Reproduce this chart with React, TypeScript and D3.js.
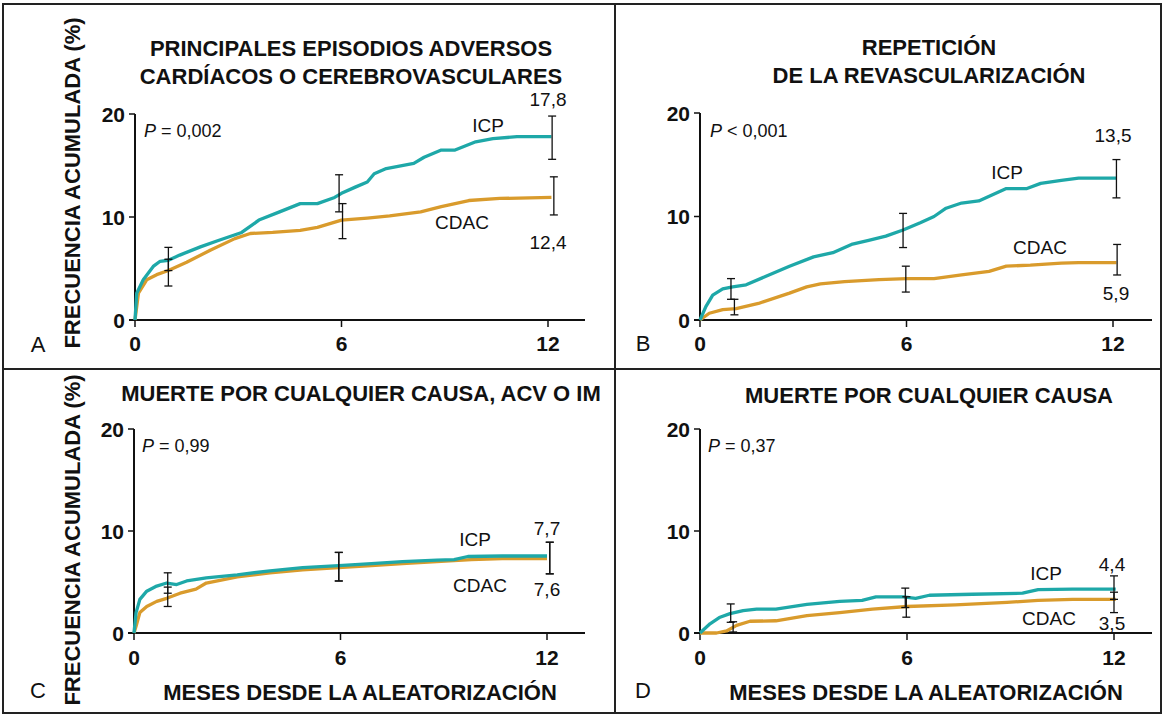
import React from 'react';
import * as d3 from 'd3';

// ---------- DATA ----------
const yTicks = [0, 10, 20];
const xTicks = [0, 6, 12];

const icpA: [number, number][] = [
  [0, 0], [0.05, 2.6], [0.24, 3.9], [0.53, 5.2], [0.73, 5.7], [0.97, 5.8], [1.3, 6.3], [1.9, 7.1],
  [2.4, 7.7], [3.1, 8.5], [3.6, 9.7], [4.2, 10.5], [4.8, 11.3], [5.3, 11.3], [5.8, 11.9], [6.0, 12.3],
  [6.4, 12.9], [6.75, 13.4], [6.95, 14.2], [7.3, 14.7], [8.1, 15.2], [8.4, 15.8], [8.9, 16.5],
  [9.3, 16.5], [9.9, 17.3], [10.4, 17.6], [11.1, 17.8], [12.1, 17.8],
];
const cdacA: [number, number][] = [
  [0, 0], [0.1, 2.6], [0.34, 3.9], [0.63, 4.4], [0.97, 4.8], [1.5, 5.6], [2.2, 6.8], [2.9, 7.9],
  [3.35, 8.4], [4.0, 8.5], [4.8, 8.7], [5.3, 9.0], [6.0, 9.7], [6.75, 9.9], [7.4, 10.1], [8.3, 10.5],
  [8.9, 11.0], [9.7, 11.6], [10.6, 11.8], [12.1, 11.9],
];
const icpB: [number, number][] = [
  [0, 0], [0.17, 1.3], [0.37, 2.4], [0.66, 3.0], [0.95, 3.2], [1.34, 3.4], [1.9, 4.2], [2.6, 5.2],
  [3.3, 6.1], [3.86, 6.5], [4.4, 7.3], [4.9, 7.7], [5.4, 8.1], [5.9, 8.7], [6.4, 9.4], [6.8, 10.0],
  [7.15, 10.8], [7.6, 11.3], [8.1, 11.5], [8.5, 12.1], [8.9, 12.7], [9.5, 12.7], [9.9, 13.2],
  [10.5, 13.5], [11.0, 13.7], [12.1, 13.7],
];
const cdacB: [number, number][] = [
  [0, 0], [0.27, 0.65], [0.66, 1.0], [1.05, 1.1], [1.7, 1.6], [2.6, 2.6], [3.1, 3.2], [3.5, 3.5],
  [4.2, 3.7], [5.2, 3.9], [6.0, 4.0], [6.8, 4.0], [7.6, 4.35], [8.4, 4.7], [8.9, 5.2], [9.6, 5.3],
  [10.5, 5.5], [11.0, 5.55], [12.1, 5.55],
];
const icpC: [number, number][] = [
  [0, 0], [0.06, 2.0], [0.17, 3.3], [0.37, 4.1], [0.66, 4.6], [0.95, 4.9], [1.24, 4.75], [1.53, 5.1],
  [2.1, 5.4], [3.0, 5.7], [3.95, 6.1], [4.9, 6.4], [5.95, 6.6], [6.9, 6.8], [7.8, 7.0], [8.8, 7.15],
  [9.3, 7.2], [9.7, 7.5], [10.7, 7.55], [12.0, 7.55],
];
const cdacC: [number, number][] = [
  [0, 0], [0.06, 0.65], [0.17, 2.0], [0.37, 2.6], [0.66, 3.1], [0.95, 3.4], [1.34, 3.9], [1.8, 4.3],
  [2.1, 4.9], [3.0, 5.5], [3.95, 5.9], [4.9, 6.2], [5.95, 6.4], [6.9, 6.6], [7.8, 6.8], [8.8, 7.0],
  [9.8, 7.2], [10.7, 7.3], [12.0, 7.3],
];
const icpD: [number, number][] = [
  [0, 0], [0.29, 0.9], [0.58, 1.55], [0.87, 1.9], [1.25, 2.2], [1.64, 2.35], [2.2, 2.35], [3.1, 2.8],
  [4.05, 3.1], [4.7, 3.2], [5.1, 3.55], [5.9, 3.55], [6.25, 3.4], [6.65, 3.7], [7.9, 3.8], [9.35, 3.9],
  [9.8, 4.25], [10.8, 4.3], [12.05, 4.3],
];
const cdacD: [number, number][] = [
  [0, 0], [0.48, 0], [0.77, 0.2], [1.06, 0.75], [1.45, 1.15], [2.2, 1.2], [3.1, 1.7], [4.05, 2.0],
  [5.0, 2.35], [6.0, 2.6], [7.4, 2.75], [8.9, 3.0], [9.8, 3.2], [10.8, 3.3], [12.05, 3.3],
];

// error bars: [month, low, high]
const errIcpA: [number, number, number][] = [[0.97, 4.8, 7.05], [5.93, 10.5, 14.1], [12.12, 15.6, 19.8]];
const errCdacA: [number, number, number][] = [[0.97, 3.3, 5.9], [6.03, 7.9, 11.3], [12.17, 10.2, 13.9]];
const errIcpB: [number, number, number][] = [[0.9, 2.0, 4.0], [5.9, 7.0, 10.3], [12.1, 11.8, 15.5]];
const errCdacB: [number, number, number][] = [[1.0, 0.5, 2.0], [5.98, 2.7, 5.2], [12.12, 4.35, 7.3]];
const errIcpC: [number, number, number][] = [[0.98, 3.9, 5.9], [5.95, 5.1, 7.9], [12.08, 5.8, 8.9]];
const errCdacC: [number, number, number][] = [[0.98, 2.6, 4.5], [5.95, 5.1, 7.9], [12.08, 5.8, 8.9]];
const errIcpD: [number, number, number][] = [[0.89, 1.05, 2.85], [5.95, 2.5, 4.4], [12.0, 3.3, 5.6]];
const errCdacD: [number, number, number][] = [[0.96, 0.1, 1.1], [5.98, 1.55, 3.55], [12.0, 2.0, 4.0]];

const titlesA = ['PRINCIPALES EPISODIOS ADVERSOS', 'CARDÍACOS O CEREBROVASCULARES'];
const titlesB = ['REPETICIÓN', 'DE LA REVASCULARIZACIÓN'];
const titlesC = ['MUERTE POR CUALQUIER CAUSA, ACV O IM'];
const titlesD = ['MUERTE POR CUALQUIER CAUSA'];
const pValues = ['= 0,002', '< 0,001', '= 0,99', '= 0,37'];
const icpFinal = ['17,8', '13,5', '7,7', '4,4'];
const cdacFinal = ['12,4', '5,9', '7,6', '3,5'];
const seriesNames = ['ICP', 'CDAC'];
const panelLetters = ['A', 'B', 'C', 'D'];
const yTitle = 'FRECUENCIA ACUMULADA (%)';
const xTitle = 'MESES DESDE LA ALEATORIZACIÓN';

// ---------- STYLE ----------
const ICP_COLOR = '#1ea8a8';
const CDAC_COLOR = '#d99b2c';
const FONT = "'Liberation Sans', Arial, Helvetica, sans-serif";
const TITLE_SIZE = 22;

type Pt = [number, number];
type Err = [number, number, number];

interface PanelProps {
  letter: string;
  x0: number; x12: number; y0: number; y20: number; xEnd: number;
  titles: string[]; titleX: number; titleY: number;
  pText: string; pX: number; pY: number;
  icp: Pt[]; cdac: Pt[]; errIcp: Err[]; errCdac: Err[];
  icpLabel: [number, number]; cdacLabel: [number, number];
  icpVal: string; cdacVal: string; icpValPos: [number, number]; cdacValPos: [number, number];
  letterPos: [number, number]; tickLabelY: number;
  yTitlePos?: [number, number]; xTitlePos?: [number, number];
}

function Panel(p: PanelProps) {
  const x = d3.scaleLinear().domain([0, 12]).range([p.x0, p.x12]);
  const y = d3.scaleLinear().domain([0, 20]).range([p.y0, p.y20]);
  const line = d3.line<Pt>().x(d => x(d[0])).y(d => y(d[1]));
  const capW = 4;
  const errs = (arr: Err[], key: string) =>
    arr.map((e, i) => {
      const ex = x(e[0]);
      return (
        <g key={key + i} stroke="#111" strokeWidth={1.3}>
          <line x1={ex} x2={ex} y1={y(e[1])} y2={y(e[2])} />
          <line x1={ex - capW} x2={ex + capW} y1={y(e[1])} y2={y(e[1])} />
          <line x1={ex - capW} x2={ex + capW} y1={y(e[2])} y2={y(e[2])} />
        </g>
      );
    });
  return (
    <g fontFamily={FONT}>
      {p.titles.map((t, i) => (
        <text key={t} x={p.titleX} y={p.titleY + i * 28} textAnchor="middle" dominantBaseline="central"
          fontWeight="bold" fontSize={TITLE_SIZE} fill="#111">{t}</text>
      ))}
      {/* axes */}
      <line x1={p.x0} x2={p.x0} y1={p.y20} y2={p.y0 + 1} stroke="#111" strokeWidth={2} />
      <line x1={p.x0 - 6} x2={p.xEnd} y1={p.y0} y2={p.y0} stroke="#111" strokeWidth={2} />
      {yTicks.map(t => (
        <g key={'y' + t}>
          <line x1={p.x0 - 6} x2={p.x0} y1={y(t)} y2={y(t)} stroke="#111" strokeWidth={1.5} />
          <text x={p.x0 - 10} y={y(t)} textAnchor="end" dominantBaseline="central" fontWeight="bold"
            fontSize={21} fill="#111">{t}</text>
        </g>
      ))}
      {xTicks.map(t => (
        <g key={'x' + t}>
          <line x1={x(t)} x2={x(t)} y1={p.y0} y2={p.y0 + 7} stroke="#111" strokeWidth={1.5} />
          <text x={x(t)} y={p.tickLabelY} textAnchor="middle" dominantBaseline="central" fontWeight="bold"
            fontSize={21} fill="#111">{t}</text>
        </g>
      ))}
      {/* curves */}
      <path d={line(p.cdac) || ''} fill="none" stroke={CDAC_COLOR} strokeWidth={3.3} strokeLinejoin="round" />
      <path d={line(p.icp) || ''} fill="none" stroke={ICP_COLOR} strokeWidth={3.3} strokeLinejoin="round" />
      {errs(p.errCdac, 'c')}
      {errs(p.errIcp, 'i')}
      {/* labels */}
      <text x={p.pX} y={p.pY} dominantBaseline="central" fontSize={18} fill="#111">
        <tspan fontStyle="italic">P</tspan> {p.pText}
      </text>
      <text x={p.icpLabel[0]} y={p.icpLabel[1]} textAnchor="middle" dominantBaseline="central" fontSize={19} fill="#111">{seriesNames[0]}</text>
      <text x={p.cdacLabel[0]} y={p.cdacLabel[1]} textAnchor="middle" dominantBaseline="central" fontSize={19} fill="#111">{seriesNames[1]}</text>
      <text x={p.icpValPos[0]} y={p.icpValPos[1]} textAnchor="middle" dominantBaseline="central" fontSize={19} fill="#111">{p.icpVal}</text>
      <text x={p.cdacValPos[0]} y={p.cdacValPos[1]} textAnchor="middle" dominantBaseline="central" fontSize={19} fill="#111">{p.cdacVal}</text>
      <text x={p.letterPos[0]} y={p.letterPos[1]} textAnchor="middle" dominantBaseline="central" fontSize={22} fill="#111">{p.letter}</text>
      {p.yTitlePos && (
        <text transform={`translate(${p.yTitlePos[0]},${p.yTitlePos[1]}) rotate(-90)`} textAnchor="middle"
          dominantBaseline="central" fontWeight="bold" fontSize={TITLE_SIZE} fill="#111">{yTitle}</text>
      )}
      {p.xTitlePos && (
        <text x={p.xTitlePos[0]} y={p.xTitlePos[1]} textAnchor="middle" dominantBaseline="central"
          fontWeight="bold" fontSize={TITLE_SIZE} fill="#111">{xTitle}</text>
      )}
    </g>
  );
}

export default function App() {
  return (
    <svg width={1165} height={717} style={{ position: 'absolute', left: 0, top: 0, background: '#fff' }}>
      <rect x={0} y={0} width={1165} height={717} fill="#fff" />
      {/* frame */}
      <rect x={3} y={4} width={1158} height={709} fill="none" stroke="#222" strokeWidth={2} />
      <line x1={615} x2={615} y1={4} y2={713} stroke="#222" strokeWidth={2} />
      <line x1={3} x2={1161} y1={369} y2={369} stroke="#222" strokeWidth={2} />

      <Panel letter={panelLetters[0]} x0={135} x12={548} y0={320} y20={114} xEnd={585}
        titles={titlesA} titleX={351} titleY={48} pText={pValues[0]} pX={144} pY={131}
        icp={icpA} cdac={cdacA} errIcp={errIcpA} errCdac={errCdacA}
        icpLabel={[488, 125]} cdacLabel={[462, 222]} icpVal={icpFinal[0]} cdacVal={cdacFinal[0]}
        icpValPos={[548, 99]} cdacValPos={[548, 242]} letterPos={[38, 344]} tickLabelY={343}
        yTitlePos={[72, 183]} />
      <Panel letter={panelLetters[1]} x0={700} x12={1113} y0={320} y20={113} xEnd={1152}
        titles={titlesB} titleX={929} titleY={47} pText={pValues[1]} pX={710} pY={131}
        icp={icpB} cdac={cdacB} errIcp={errIcpB} errCdac={errCdacB}
        icpLabel={[1007, 172]} cdacLabel={[1040, 247]} icpVal={icpFinal[1]} cdacVal={cdacFinal[1]}
        icpValPos={[1113, 135]} cdacValPos={[1116, 293]} letterPos={[643, 343]} tickLabelY={343} />
      <Panel letter={panelLetters[2]} x0={134} x12={547} y0={633} y20={429} xEnd={585}
        titles={titlesC} titleX={361} titleY={393} pText={pValues[2]} pX={142} pY={446}
        icp={icpC} cdac={cdacC} errIcp={errIcpC} errCdac={errCdacC}
        icpLabel={[475, 539]} cdacLabel={[480, 585]} icpVal={icpFinal[2]} cdacVal={cdacFinal[2]}
        icpValPos={[547, 528]} cdacValPos={[547, 589]} letterPos={[38, 690]} tickLabelY={657}
        yTitlePos={[72, 540]} xTitlePos={[360, 692]} />
      <Panel letter={panelLetters[3]} x0={700} x12={1114} y0={633} y20={429} xEnd={1152}
        titles={titlesD} titleX={929} titleY={395} pText={pValues[3]} pX={708} pY={446}
        icp={icpD} cdac={cdacD} errIcp={errIcpD} errCdac={errCdacD}
        icpLabel={[1046, 573]} cdacLabel={[1049, 618]} icpVal={icpFinal[3]} cdacVal={cdacFinal[3]}
        icpValPos={[1112, 564]} cdacValPos={[1112, 623]} letterPos={[643, 690]} tickLabelY={657}
        xTitlePos={[926, 692]} />
    </svg>
  );
}
